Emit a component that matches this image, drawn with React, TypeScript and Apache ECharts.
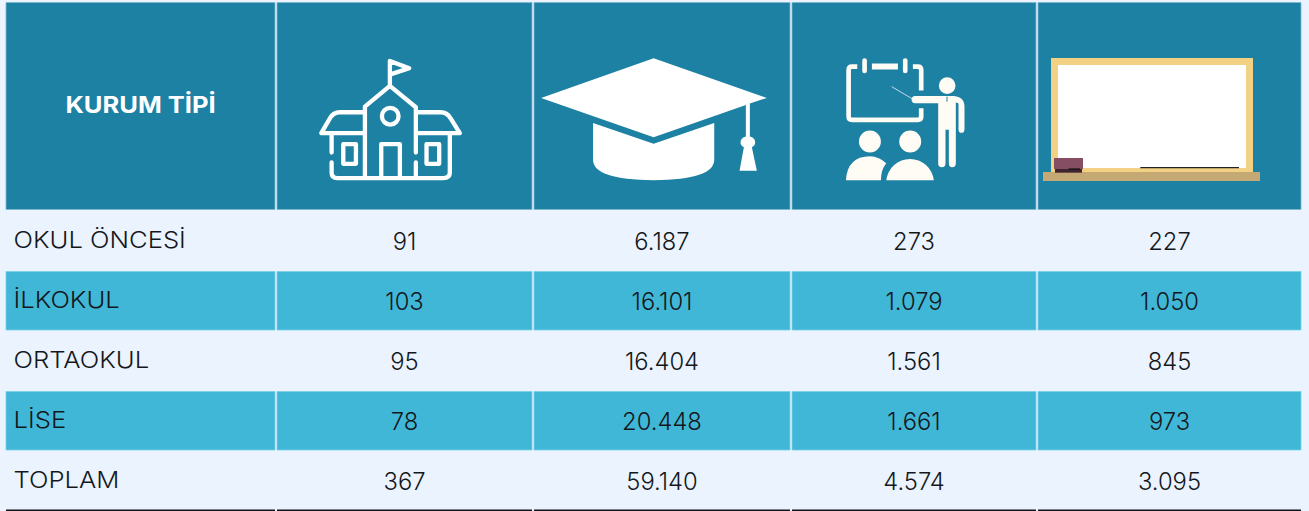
import React, { useEffect, useRef } from "react";
import * as echarts from "echarts";

const headerLabel = "KURUM TİPİ";
const categories = ["OKUL ÖNCESİ", "İLKOKUL", "ORTAOKUL", "LİSE", "TOPLAM"];
const schools = [91, 103, 95, 78, 367];
const students = [6187, 16101, 16404, 20448, 59140];
const teachers = [273, 1079, 1561, 1661, 4574];
const classrooms = [227, 1050, 845, 973, 3095];

const PAGE_W = 1309;
const PAGE_H = 511;
const colEdges = [[6, 275], [277, 532], [534, 790], [792, 1036], [1038, 1301]];
const rowEdges = [[210, 271.5], [271.5, 330], [330, 391.5], [391.5, 450], [450, 511]];
const HEADER_TOP = 2.5;
const HEADER_BOTTOM = 209.5;

const BG = "#EBF3FE";
const HEADER = "#1C81A3";
const BAND = "#41B7D7";
const HEADER_EDGE = "#7DB8D0";
const BAND_EDGE = "#78CEE6";
const INK = "#14181C";
const FONT = "Inter";

const fmt = (n: number) => String(n).replace(/\B(?=(\d{3})+$)/g, ".");
const columns = [schools, students, teachers, classrooms];

const schoolPath =
  "M330 255 L330 183 L388 205 L336 222 M255 320 L330 258 L408 322 M255 320 L255 535 M408 322 L408 458 M408 488 L408 535 " +
  "M356 349 A25 25 0 1 1 306 349 A25 25 0 1 1 356 349 " +
  "M255 337 L180 337 Q160 337 150 355 L124 400 L255 400 M408 337 L482 337 Q502 337 512 355 L540 400 L408 400 " +
  "M155 400 L155 458 M155 488 L155 518 Q155 535 172 535 L490 535 Q510 535 510 518 L510 400 " +
  "M190 433 L228 433 L228 492 L190 492 Z M440 433 L478 433 L478 492 L440 492 Z M304 535 L304 433 L360 433 L360 535";
const capPath =
  "M1122 175 L1462 294 L1411 311 L1411 410 Q1427 414 1427 428 Q1427 438 1417 442 L1432 513 L1380 513 L1393 442 Q1383 438 1383 428 Q1383 414 1399 410 L1399 315 L1122 412 L784 294 Z " +
  "M940 369 L1122 432 L1304 369 L1304 480 Q1304 540 1122 541 Q940 540 940 480 Z";
const teacherFramePath =
  "M202 200 L186 200 Q176 200 176 210 L176 350 Q176 360 186 360 L384 360 Q394 360 394 350 L394 325 M394 272 L394 210 Q394 200 384 200 L369 200";
const teacherFillPath =
  "M376 288 L490 288 Q524 290 524 320 L524 388 Q524 399 515 399 Q506 399 506 388 L506 315 Q506 308 498 308 L498 490 Q498 502 487 502 Q477 502 477 490 L477 390 L467 390 L467 490 Q467 502 456 502 Q445 502 445 490 L445 310 L376 310 Q365 310 365 299 Q365 288 376 288 Z " +
  "M497 257 A25 25 0 1 1 447 257 A25 25 0 1 1 497 257 Z " +
  "M273 425 A33 33 0 1 1 207 425 A33 33 0 1 1 273 425 Z M394 425 A33 33 0 1 1 328 425 A33 33 0 1 1 394 425 Z " +
  "M289 541 A72 72 0 0 1 432 541 Z M168 541 Q172 470 240 469 Q268 470 289 490 Q273 510 273 541 Z " +
  "M246 191 L324 191 L324 209 L246 209 Z " +
  "M217 182 Q217 175 224 175 Q231 175 231 182 L231 213 Q231 220 224 220 Q217 220 217 213 Z " +
  "M339 182 Q339 175 346 175 Q353 175 353 182 L353 213 Q353 220 346 220 Q339 220 339 213 Z";

echarts.graphic.registerShape("schoolIcon", echarts.graphic.extendPath(schoolPath, {}));
echarts.graphic.registerShape("capIcon", echarts.graphic.extendPath(capPath, {}));
echarts.graphic.registerShape("teacherFrame", echarts.graphic.extendPath(teacherFramePath, {}));
echarts.graphic.registerShape("teacherFill", echarts.graphic.extendPath(teacherFillPath, {}));

const zoomRect = (ox: number, x0: number, y0: number, x1: number, y1: number, fill: string) => ({
  type: "rect",
  shape: { x: ox + x0 / 3, y: y0 / 3, width: (x1 - x0) / 3, height: (y1 - y0) / 3 },
  style: { fill },
  z: 20,
});

function buildOption() {
  const headerCells = colEdges.map((_, c) => [c, -1]);
  const bodyCells: number[][] = [];
  categories.forEach((_, r) => colEdges.forEach((__, c) => bodyCells.push([c, r])));
  const bottomRules = colEdges.map((_, c) => [c, 5]);

  const renderItem = (_: any, api: any) => {
    const c = api.value(0);
    const r = api.value(1);
    const [x0, x1] = colEdges[c];
    if (r === 5) {
      const a = api.coord([x0, 509.5]);
      const b = api.coord([x1, 511]);
      return { type: "rect", shape: { x: a[0], y: a[1], width: b[0] - a[0], height: b[1] - a[1] }, style: { fill: "#101418" } };
    }
    const top = r < 0 ? HEADER_TOP : rowEdges[r][0];
    const bottom = r < 0 ? HEADER_BOTTOM : rowEdges[r][1];
    const a = api.coord([x0, top]);
    const b = api.coord([x1, bottom]);
    const w = b[0] - a[0];
    const h = b[1] - a[1];
    const children: any[] = [];
    if (r < 0) {
      children.push({
        type: "rect",
        shape: { x: a[0], y: a[1], width: w, height: h },
        style: { fill: HEADER, stroke: HEADER_EDGE, lineWidth: 0.8 },
      });
      if (c === 0) {
        children.push({
          type: "text",
          x: a[0] + w / 2,
          y: a[1] + 101.5,
          scaleX: 1.11,
          style: { text: headerLabel, fill: "#FFFFFF", fontFamily: FONT, fontWeight: 700, fontSize: 23, align: "center", verticalAlign: "middle" },
        });
      }
    } else {
      if (r % 2 === 1) {
        children.push({
          type: "rect",
          shape: { x: a[0], y: a[1], width: w, height: h },
          style: { fill: BAND, stroke: BAND_EDGE, lineWidth: 0.8 },
        });
      }
      const isLabel = c === 0;
      children.push({
        type: "text",
        x: isLabel ? a[0] + 7.5 : a[0] + w / 2,
        y: a[1] + h / 2 + (isLabel ? -0.75 : 0.5),
        scaleX: isLabel ? 1.115 : 0.99,
        style: {
          text: isLabel ? categories[r] : fmt(columns[c - 1][r]),
          fill: INK,
          fontFamily: FONT,
          fontWeight: 300,
          fontSize: isLabel ? 23 : 24,
          align: isLabel ? "left" : "center",
          verticalAlign: "middle",
        },
      });
    }
    return { type: "group", children };
  };

  return {
    animation: false,
    backgroundColor: BG,
    grid: { left: 0, right: 0, top: 0, bottom: 0 },
    xAxis: { type: "value", min: 0, max: PAGE_W, show: false },
    yAxis: { type: "value", min: 0, max: PAGE_H, inverse: true, show: false },
    series: [
      {
        type: "custom",
        coordinateSystem: "cartesian2d",
        clip: false,
        silent: true,
        renderItem,
        encode: { x: 0, y: 1 },
        data: [...headerCells, ...bodyCells, ...bottomRules],
      },
    ],
    graphic: [
      { type: "schoolIcon", x: 280, y: 0, scaleX: 1 / 3, scaleY: 1 / 3, z: 20, style: { fill: "none", stroke: "#FFFFFF", lineWidth: 13, lineCap: "round", lineJoin: "round" } },
      { type: "capIcon", x: 280, y: 0, scaleX: 1 / 3, scaleY: 1 / 3, z: 20, style: { fill: "#FFFFFF" } },
      { type: "teacherFrame", x: 790, y: 0, scaleX: 1 / 3, scaleY: 1 / 3, z: 20, style: { fill: "none", stroke: "#FFFBF5", lineWidth: 14 } },
      { type: "teacherFill", x: 790, y: 0, scaleX: 1 / 3, scaleY: 1 / 3, z: 20, style: { fill: "#FFFBF5" } },
      { type: "line", shape: { x1: 790 + 305 / 3, y1: 260 / 3, x2: 790 + 368 / 3, y2: 297 / 3 }, style: { stroke: "#E8F2F5", lineWidth: 0.8 }, z: 20 },
      { type: "line", shape: { x1: 790 + 471 / 3, y1: 290 / 3, x2: 790 + 471 / 3, y2: 305 / 3 }, style: { stroke: HEADER, lineWidth: 1 }, z: 21 },
      zoomRect(790, 783, 174, 1389, 516, "#F2D184"),
      zoomRect(790, 804, 195, 1368, 504, "#FFFFFF"),
      zoomRect(790, 759, 516, 1410, 543, "#C4A974"),
      zoomRect(790, 795, 505, 876, 518, "#3F2430"),
      zoomRect(790, 792, 474, 879, 507, "#864E62"),
      zoomRect(790, 836, 505, 870, 510, "#1E1A1A"),
      zoomRect(790, 1051, 501, 1347, 505, "#222222"),
    ],
  };
}

export default function App() {
  const ref = useRef<HTMLDivElement>(null);
  useEffect(() => {
    const chart = echarts.init(ref.current as HTMLDivElement, undefined, { renderer: "svg" });
    chart.setOption(buildOption() as any);
    return () => chart.dispose();
  }, []);
  return <div ref={ref} style={{ position: "fixed", left: 0, top: 0, width: PAGE_W, height: PAGE_H }} />;
}
